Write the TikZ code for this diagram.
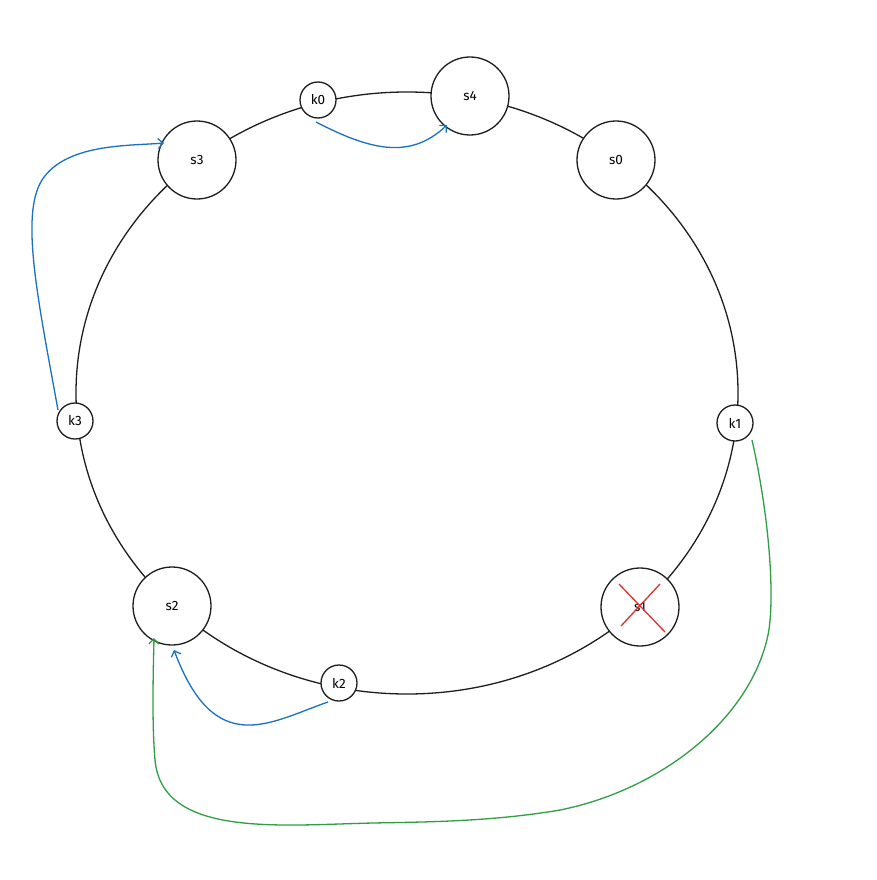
\documentclass[tikz,border=0pt]{standalone}
\usepackage{fontspec}
\setsansfont{Fira Sans}
\usetikzlibrary{arrows.meta}
\definecolor{eblue}{HTML}{1971C2}
\definecolor{egreen}{HTML}{2F9E44}
\definecolor{ered}{HTML}{E03131}
\definecolor{eink}{HTML}{1E1E1E}
\begin{document}
\begin{tikzpicture}[x=1pt,y=-1pt,
  big/.style={circle,draw=eink,fill=white,line width=1.3pt,minimum size=78pt,inner sep=0pt,font=\sffamily\fontsize{13.5}{13.5}\selectfont},
  small/.style={circle,draw=eink,fill=white,line width=1.3pt,minimum size=36pt,inner sep=0pt,font=\sffamily\fontsize{13.5}{13.5}\selectfont},
  barrow/.style={draw=eblue,line width=1.3pt,-{Straight Barb[length=5pt,width=10pt]}},
  garrow/.style={draw=egreen,line width=1.3pt,-{Straight Barb[length=5pt,width=10pt]}}]
\useasboundingbox (0,0) rectangle (876,880);
\fill[white] (0,0) rectangle (876,880);
\coordinate (ctr) at (407,393);
\draw[eink,line width=1.3pt] (ctr) ellipse [x radius=331, y radius=301];
\node[big] (s4) at (470,96) {s4};
\node[big] (s0) at (616,160) {s0};
\node[big] (s3) at (197,160) {s3};
\node[big] (s2) at (172,606) {s2};
\node[big] (s1) at (640,607) {s1};
\node[small] (k0) at (318,100) {k0};
\node[small] (k1) at (735,423) {k1};
\node[small] (k3) at (75,421) {k3};
\node[small] (k2) at (339,683) {k2};
\draw[ered,line width=1.3pt] ([shift={(-21,-23)}]s1.center) -- ([shift={(25,25)}]s1.center);
\draw[ered,line width=1.3pt] ([shift={(20,-23)}]s1.center) -- ([shift={(-19,19)}]s1.center);
% arrows
\coordinate (k0s) at (316,122);
\coordinate (s4e) at (447,125);
\draw[barrow] (k0s) .. controls (370,150) and (410,160) .. (s4e);
\coordinate (k3s) at (58,410);
\coordinate (s3e) at (164,143);
\draw[barrow] (k3s) .. controls (38,300) and (20,215) .. (42,180) .. controls (66,143) and (130,146) .. (s3e);
\coordinate (k2s) at (328,702);
\coordinate (s2e) at (174,650);
\draw[barrow] (k2s) .. controls (270,722) and (215,760) .. (s2e);
\coordinate (k1s) at (752,440);
\coordinate (s2g) at (154,638);
\draw[garrow] (k1s) .. controls (770,520) and (775,600) .. (768,635) .. controls (750,720) and (660,790) .. (560,810) .. controls (490,822) and (420,822) .. (373,823) .. controls (280,825) and (162,838) .. (155,760) .. controls (152,725) and (153,680) .. (s2g);
\end{tikzpicture}
\end{document}
